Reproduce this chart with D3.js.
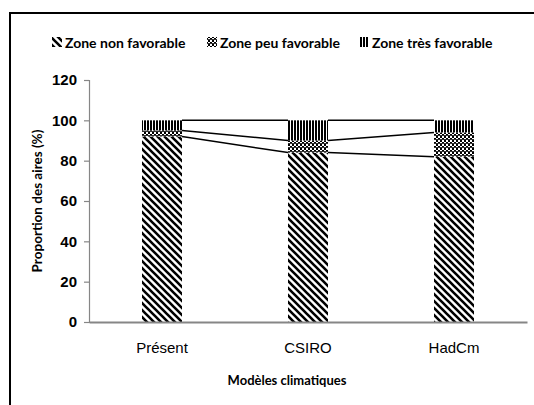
<!DOCTYPE html>
<html><head><meta charset="utf-8">
<script src="https://cdn.jsdelivr.net/npm/d3@7"></script>
<style>body{margin:0;background:#fff;} svg{display:block;font-family:Lato,"Open Sans",sans-serif;}</style>
</head><body>
<svg id="c" width="534" height="405"></svg>
<script>
const categories = ["Présent", "CSIRO", "HadCm"];
const seriesNames = ["Zone non favorable", "Zone peu favorable", "Zone très favorable"];
const nonFavorable = [92, 84, 82];
const peuFavorable = [3, 6, 12];
const tresFavorable = [5, 10, 6];
const yTicks = [0, 20, 40, 60, 80, 100, 120];

const svg = d3.select("#c");
const defs = svg.append("defs");
const p1 = defs.append("pattern").attr("id","pNon").attr("patternUnits","userSpaceOnUse").attr("width",7).attr("height",7);
p1.append("rect").attr("width",7).attr("height",7).attr("fill","#fff");
p1.append("path").attr("d","M-2,-2 L9,9 M-2,5 L2,9 M5,-2 L9,2").attr("stroke","#000").attr("stroke-width",2.6);
const p2 = defs.append("pattern").attr("id","pPeu").attr("patternUnits","userSpaceOnUse").attr("width",4).attr("height",4);
p2.append("rect").attr("width",4).attr("height",4).attr("fill","#fff");
p2.append("rect").attr("x",0).attr("y",0).attr("width",2).attr("height",2).attr("fill","#000");
p2.append("rect").attr("x",2).attr("y",2).attr("width",2).attr("height",2).attr("fill","#000");
p2.append("rect").attr("x",0).attr("y",3).attr("width",4).attr("height",1).attr("fill","#333");
const p3 = defs.append("pattern").attr("id","pTres").attr("patternUnits","userSpaceOnUse").attr("width",3).attr("height",3);
p3.append("rect").attr("width",3).attr("height",3).attr("fill","#fff");
p3.append("rect").attr("width",2).attr("height",3).attr("fill","#000");
const fills = ["url(#pNon)","url(#pPeu)","url(#pTres)"];

svg.append("path").attr("d","M10,420 L10,13 L540,13").attr("fill","none").attr("stroke","#000").attr("stroke-width",2);

const x = d3.scaleBand().domain(categories).range([89,527]).paddingInner(0.726).paddingOuter(0.363);
const y = d3.scaleLinear().domain([0,120]).range([322,80]);

const data = categories.map((c,i)=>({cat:c, s0:nonFavorable[i], s1:peuFavorable[i], s2:tresFavorable[i]}));
const stack = d3.stack().keys(["s0","s1","s2"])(data);

const yAxis = svg.append("g").attr("transform","translate(89,0)").call(d3.axisLeft(y).tickValues(yTicks).tickSize(5).tickPadding(7));
yAxis.select(".domain").attr("stroke","#868686").attr("stroke-width",1.2);
yAxis.selectAll(".tick line").attr("stroke","#868686").attr("stroke-width",1.2);
yAxis.selectAll(".tick text").attr("font-size",15).attr("font-weight","bold").attr("fill","#000");

stack.forEach((layer,k)=>{
  svg.append("g").selectAll("rect").data(layer).join("rect")
    .attr("x",d=>x(d.data.cat)).attr("width",x.bandwidth())
    .attr("y",d=>y(d[1])).attr("height",d=>y(d[0])-y(d[1]))
    .attr("fill",fills[k]);
});

stack.forEach(layer=>{
  for(let i=0;i<layer.length-1;i++){
    svg.append("line")
      .attr("x1",x(categories[i])+x.bandwidth()).attr("y1",y(layer[i][1]))
      .attr("x2",x(categories[i+1])).attr("y2",y(layer[i+1][1]))
      .attr("stroke","#000").attr("stroke-width",1.5);
  }
});

const xAxis = svg.append("g").attr("transform","translate(0,322)").call(d3.axisBottom(x).tickSize(0).tickPadding(20));
xAxis.select(".domain").attr("stroke","#868686").attr("stroke-width",2);
xAxis.selectAll(".tick text").attr("font-size",15).attr("fill","#000");

svg.append("text").attr("x",287).attr("y",385).attr("text-anchor","middle").attr("font-size",13).attr("font-weight","bold").text("Modèles climatiques");
svg.append("text").attr("transform","translate(42,201) rotate(-90)").attr("text-anchor","middle").attr("font-size",13.5).attr("font-weight","bold").text("Proportion des aires (%)");

const legX = [52, 207, 359];
seriesNames.forEach((n,i)=>{
  svg.append("rect").attr("x",legX[i]).attr("y",37).attr("width",10).attr("height",10).attr("fill",fills[i]);
  svg.append("text").attr("x",legX[i]+13).attr("y",47.5).attr("font-size",14).attr("font-weight","bold").text(n);
});
</script>
</body></html>
